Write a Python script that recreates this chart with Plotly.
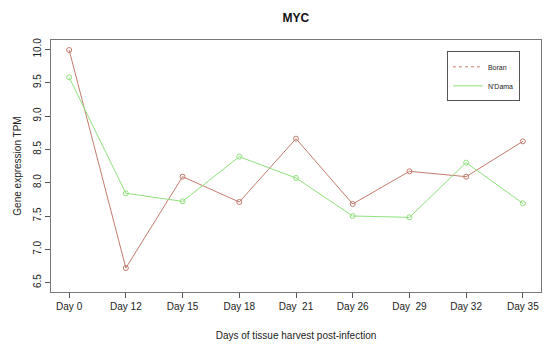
import plotly.graph_objects as go

days = ["Day 0", "Day 12", "Day 15", "Day 18", "Day  21", "Day 26", "Day  29", "Day 32", "Day 35"]
boran = [9.99, 6.72, 8.09, 7.71, 8.66, 7.68, 8.17, 8.09, 8.62]
ndama = [9.58, 7.84, 7.72, 8.39, 8.07, 7.50, 7.48, 8.30, 7.69]
y_ticks = [6.5, 7.0, 7.5, 8.0, 8.5, 9.0, 9.5, 10.0]

BORAN_C = "#c37b6c"
NDAMA_C = "#8fe27d"
xs = list(range(1, len(days) + 1))

fig = go.Figure()
fig.add_trace(go.Scatter(x=xs, y=boran, mode="lines+markers", showlegend=False,
                         line=dict(color=BORAN_C, width=1),
                         marker=dict(symbol="circle-open", size=5, color=BORAN_C, line=dict(width=1))))
fig.add_trace(go.Scatter(x=xs, y=ndama, mode="lines+markers", showlegend=False,
                         line=dict(color=NDAMA_C, width=1),
                         marker=dict(symbol="circle-open", size=5, color=NDAMA_C, line=dict(width=1))))
# legend entries (R legend: Boran dotted, N'Dama solid)
fig.add_trace(go.Scatter(x=[None], y=[None], mode="lines", name="Boran",
                         line=dict(color=BORAN_C, width=1, dash="dot")))
fig.add_trace(go.Scatter(x=[None], y=[None], mode="lines", name="N'Dama",
                         line=dict(color=NDAMA_C, width=1)))

font = "Liberation Sans, Arial, sans-serif"
fig.update_layout(
    width=550, height=348,
    margin=dict(l=51, r=9, t=40, b=56),
    paper_bgcolor="white", plot_bgcolor="white",
    font=dict(family=font, size=10, color="#222"),
    title=dict(text="<b>MYC</b>", x=0.538, xanchor="center", y=0.948, yanchor="middle",
               font=dict(size=12, color="#111")),
    showlegend=True,
    legend=dict(x=0.957, y=0.955, xanchor="right", yanchor="top",
                bordercolor="#555", borderwidth=1, bgcolor="white",
                font=dict(size=7), itemwidth=30, tracegroupgap=0),
)
fig.update_xaxes(
    range=[0.68, 9.32], tickmode="array", tickvals=xs, ticktext=days,
    showgrid=False, zeroline=False, showline=True, mirror=True,
    linecolor="#777", linewidth=1, ticks="outside", ticklen=5, tickcolor="#555",
    tickfont=dict(size=10), title=dict(text="Days of tissue harvest post-infection",
                                       font=dict(size=10), standoff=20),
)
fig.update_yaxes(
    range=[6.36, 10.14], tickmode="array", tickvals=y_ticks,
    ticktext=[f"{v:.1f}" for v in y_ticks], tickangle=-90,
    showgrid=False, zeroline=False, showline=True, mirror=True,
    linecolor="#777", linewidth=1, ticks="outside", ticklen=5, tickcolor="#555",
    tickfont=dict(size=10), title=dict(text="Gene expression TPM", font=dict(size=10), standoff=8),
)
fig.write_html("out.html", config={"displayModeBar": False},
               post_script="document.body.style.margin='0';")
